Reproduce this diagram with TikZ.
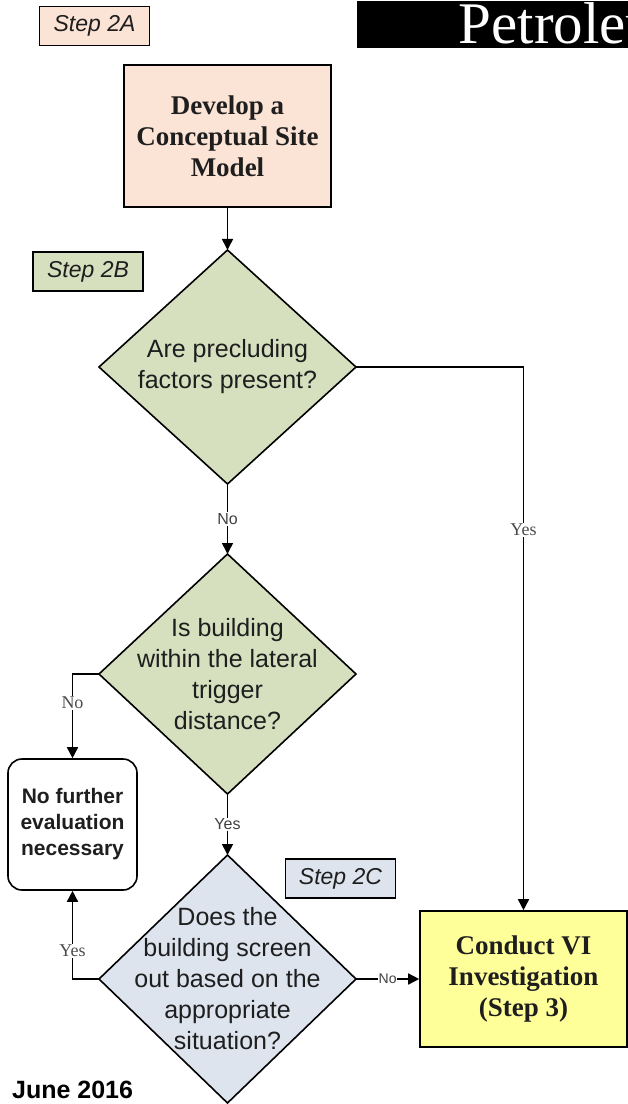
\documentclass[tikz,border=0pt]{standalone}
\usepackage{fontspec}
\setmainfont{Liberation Serif}
\setsansfont{Liberation Sans}
\usetikzlibrary{shapes.geometric,positioning,arrows.meta}
\definecolor{peach}{RGB}{251,228,214}
\definecolor{sage}{RGB}{214,224,191}
\definecolor{mist}{RGB}{221,228,238}
\definecolor{lemon}{RGB}{255,255,153}
\definecolor{ink}{RGB}{30,30,30}
\tikzset{>={Triangle[width=11pt,length=11pt]}, % filled arrow heads
x=1pt, y=-1pt, % one unit per pixel, y runs downwards
}

\begin{document}
\begin{tikzpicture}[line width=1.6pt,
	stepbox/.style={draw, line width=1.3pt, fill=#1, minimum width=110pt, minimum height=39pt, inner sep=0pt, font=\sffamily\itshape\fontsize{23}{27}\selectfont, text=ink},
	taskbox/.style={draw, fill=#1, inner sep=0pt, align=center, font=\bfseries\fontsize{27}{31}\selectfont, text=ink},
	decision/.style={diamond, draw, fill=#1, inner sep=0pt, outer sep=0pt, minimum width=257pt},
	question/.style={align=center, font=\sffamily\fontsize{25}{31}\selectfont, text=ink},
	serifyn/.style={fill=white, inner sep=1pt, font=\fontsize{18}{20}\selectfont, text=black!70},
	sansyn/.style={fill=white, inner sep=1pt, font=\sffamily\fontsize{16}{18}\selectfont, text=black!75}]
\useasboundingbox (0,0) rectangle (628,1104);
\clip (0,0) rectangle (628,1104);
% title band, cut off at the edge
\node[fill=black, minimum width=272pt, minimum height=47pt, anchor=north west, inner sep=0pt] (band) at (356,0) {};
\node[anchor=base west, text=white, font=\fontsize{59}{59}\selectfont, inner sep=0pt] (ttl) at (458,43) {Petroleum};
\node[stepbox=peach] (s2a) at (94.5,26) {Step 2A};
\node[taskbox=peach, minimum width=207pt, minimum height=142pt] (csm) at (227.5,136) {Develop a\\Conceptual Site\\Model};
\node[stepbox=sage] (s2b) at (88,271.5) {Step 2B};
\node[decision=sage, minimum height=234pt] (pf) at (227.5,367) {};
\node[question] (pftxt) at (pf) {Are precluding\\factors present?};
\node[decision=sage, minimum height=240pt] (ltd) at (227.5,674) {};
\node[question] (ltdtxt) at (ltd) {Is building\\within the lateral\\trigger\\distance?};
\node[draw, rounded corners=14pt, minimum width=129pt, minimum height=131pt, align=center, font=\sffamily\bfseries\fontsize{21}{26}\selectfont, text=ink] (nfe) at (72.5,824.5) {No further\\evaluation\\necessary};
\node[decision=mist, minimum height=248pt] (so) at (227.5,979) {};
\node[question] (sotxt) at (so) {Does the\\building screen\\out based on the\\appropriate\\situation?};
\node[stepbox=mist] (s2c) at (340.5,878.5) {Step 2C};
\node[taskbox=lemon, minimum width=207pt, minimum height=136pt] (vi) at (523.5,979) {Conduct VI\\Investigation\\(Step 3)};
\node[anchor=west, font=\sffamily\bfseries\fontsize{25}{30}\selectfont] (date) at (8,1090) {June 2016};
% connectors
\draw[->] (csm) -- (pf);
\draw[->] (pf) -- node[sansyn]{No} (ltd);
\draw[->] (pf.east) -| node[serifyn, pos=0.65]{Yes} (vi);
\draw[->] (ltd.west) -| node[serifyn, pos=0.67]{No} (nfe);
\draw[->] (ltd) -- node[sansyn]{Yes} (so);
\draw[->] (so.west) -| node[serifyn, pos=0.66]{Yes} (nfe);
\draw[->] (so) -- node[sansyn, font=\sffamily\fontsize{14}{16}\selectfont, inner sep=0.5pt]{No} (vi);
\end{tikzpicture}
\end{document}
